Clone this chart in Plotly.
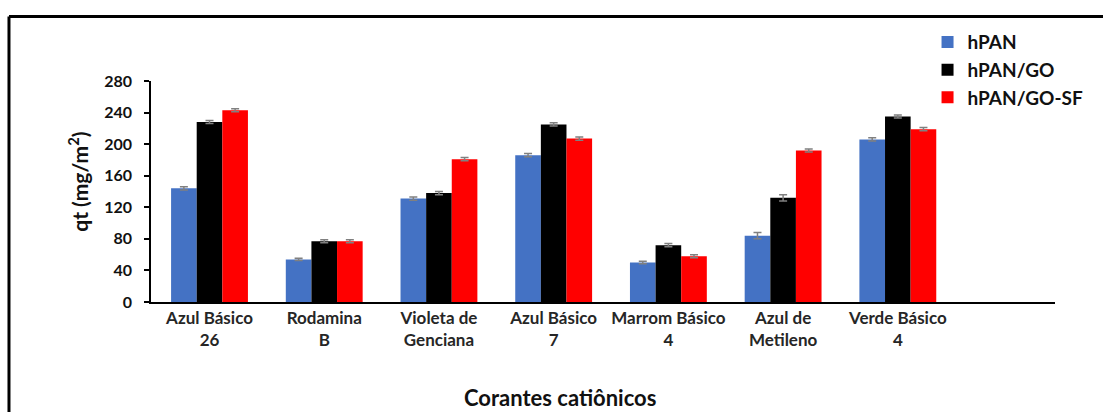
import plotly.graph_objects as go

categories = ["Azul Básico<br>26", "Rodamina<br>B", "Violeta de<br>Genciana", "Azul Básico<br>7",
              "Marrom Básico<br>4", "Azul de<br>Metileno", "Verde Básico<br>4"]
hpan = [144, 54, 131, 186, 50, 84, 206]
hpan_go = [228, 77, 138, 225, 72, 132, 235]
hpan_go_sf = [243, 77, 181, 207, 58, 192, 219]
err_hpan = [2, 1.5, 2, 2, 1.5, 4, 2]
err_hpan_go = [2, 2, 2, 2, 2, 4, 2]
err_hpan_go_sf = [2, 2, 2, 2, 2, 2, 2]
series_names = ["hPAN", "hPAN/GO", "hPAN/GO-SF"]
colors = ["#4472C4", "#000000", "#FF0000"]
yticks = [0, 40, 80, 120, 160, 200, 240, 280]
x_title = "Corantes catiônicos"
y_title = "qt (mg/m<sup>2</sup>)"

xpos = list(range(len(categories)))
FONT = "Lato"

fig = go.Figure()
for i, (name, vals, errs, col) in enumerate(zip(series_names, [hpan, hpan_go, hpan_go_sf],
                                               [err_hpan, err_hpan_go, err_hpan_go_sf], colors)):
    fig.add_trace(go.Bar(
        x=xpos, y=vals, name=name, marker=dict(color=col, line=dict(width=0)),
        error_y=dict(type="data", array=errs, visible=True, color="#808080", thickness=1.5, width=4),
        legendgroup=name,
    ))

fig.update_layout(
    width=1103, height=412,
    margin=dict(l=151, r=48, t=81, b=110),
    paper_bgcolor="white", plot_bgcolor="white",
    barmode="group", bargap=0.33, bargroupgap=0,
    font=dict(family=FONT, color="#1a1a1a"),
    showlegend=True,
    legend=dict(x=0.859, y=1.262, xanchor="left", yanchor="top",
                font=dict(family=FONT, size=19, color="#111111", weight="bold"),
                traceorder="grouped", tracegroupgap=0, itemwidth=30,
                bgcolor="rgba(0,0,0,0)"),
    xaxis=dict(
        tickmode="array", tickvals=xpos, ticktext=categories,
        range=[-0.51, 7.37], showline=True, linecolor="#000000", linewidth=1.5,
        ticks="", showgrid=False, zeroline=False,
        tickfont=dict(family=FONT, size=17, color="#262626", weight="bold"),
    ),
    yaxis=dict(
        range=[0, 280], tickmode="array", tickvals=yticks,
        showline=True, linecolor="#000000", linewidth=1.5,
        ticks="outside", ticklen=5, tickwidth=1.5, tickcolor="#000000",
        ticklabelstandoff=9,
        showgrid=False, zeroline=False,
        tickfont=dict(family=FONT, size=16, color="#111111", weight="bold"),
    ),
    annotations=[
        dict(text=x_title, xref="paper", yref="paper", x=0.4524, y=-0.43,
             xanchor="center", yanchor="middle", showarrow=False,
             font=dict(family=FONT, size=22, color="#111111", weight="bold")),
        dict(text=y_title, xref="paper", yref="paper", x=-0.081, y=0.543, textangle=-90,
             xanchor="center", yanchor="middle", showarrow=False,
             font=dict(family=FONT, size=21, color="#111111", weight="bold")),
    ],
    shapes=[
        dict(type="line", xref="paper", yref="paper", x0=-0.1571, x1=1.06, y0=1.2915, y1=1.2915,
             line=dict(color="#000000", width=3)),
        dict(type="line", xref="paper", yref="paper", x0=-0.1571, x1=-0.1571, y0=1.2915, y1=-0.55,
             line=dict(color="#000000", width=3)),
    ],
)

fig.write_html("out.html")
